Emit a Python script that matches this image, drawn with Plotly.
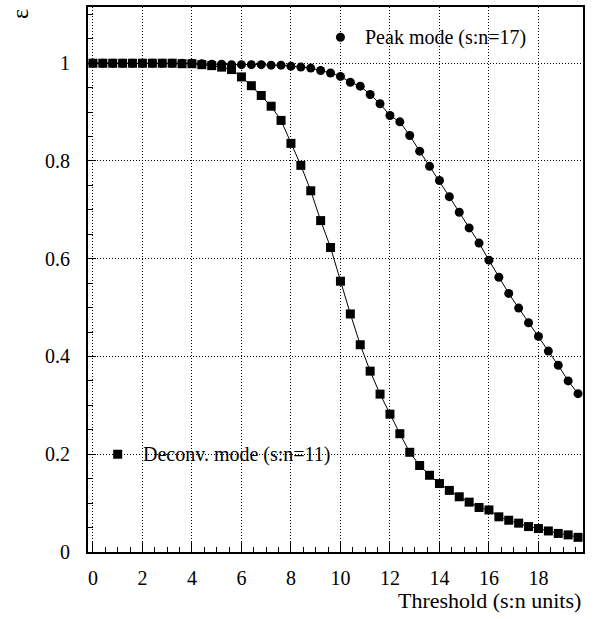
import plotly.graph_objects as go

# Threshold values (s:n units), sampled every 0.4
threshold = [round(0.4 * i, 1) for i in range(50)]

# Efficiency for peak-finding mode (s:n = 17)
eff_peak = [
    1.000, 1.000, 1.000, 1.000, 1.000, 1.000, 1.000, 1.000, 1.000, 1.000,
    1.000, 0.999, 0.998, 0.998, 0.997, 0.997, 0.997, 0.997, 0.996, 0.996,
    0.994, 0.992, 0.990, 0.985, 0.980, 0.973, 0.961, 0.953, 0.936, 0.917,
    0.893, 0.880, 0.852, 0.820, 0.789, 0.760, 0.727, 0.695, 0.663, 0.632,
    0.597, 0.562, 0.529, 0.499, 0.469, 0.441, 0.411, 0.382, 0.350, 0.324,
]

# Efficiency for deconvolution mode (s:n = 11)
eff_deconv = [
    1.000, 1.000, 1.000, 1.000, 1.000, 1.000, 1.000, 1.000, 1.000, 0.999,
    0.999, 0.997, 0.995, 0.992, 0.987, 0.972, 0.954, 0.934, 0.912, 0.883,
    0.836, 0.791, 0.739, 0.678, 0.623, 0.554, 0.487, 0.424, 0.370, 0.323,
    0.282, 0.242, 0.204, 0.177, 0.157, 0.140, 0.126, 0.113, 0.102, 0.091,
    0.086, 0.072, 0.065, 0.059, 0.052, 0.048, 0.043, 0.038, 0.035, 0.030,
]

legend_peak = "Peak mode (s:n=17)"
legend_deconv = "Deconv. mode (s:n=11)"
x_title = "Threshold (s:n units)"
y_title = "ε"

FONT = "Liberation Serif"

fig = go.Figure()

fig.add_trace(go.Scatter(
    x=threshold, y=eff_peak, mode="lines+markers",
    line=dict(color="black", width=1),
    marker=dict(symbol="circle", size=9, color="black"),
    showlegend=False, hoverinfo="skip",
))
fig.add_trace(go.Scatter(
    x=threshold, y=eff_deconv, mode="lines+markers",
    line=dict(color="black", width=1),
    marker=dict(symbol="square", size=9, color="black"),
    showlegend=False, hoverinfo="skip",
))

# Hand-placed legend entries inside the frame
def legend_marker(kind, xc, yc, half=4.5):
    return dict(
        type=kind, xref="x", yref="y",
        xsizemode="pixel", ysizemode="pixel",
        xanchor=xc, yanchor=yc,
        x0=-half, x1=half, y0=-half, y1=half,
        fillcolor="black", line=dict(width=0), layer="above",
    )

fig.add_shape(legend_marker("circle", 10.0, 1.053))
fig.add_shape(legend_marker("rect", 1.0, 0.2))

fig.add_annotation(
    x=10.93, y=1.053, xref="x", yref="y", text=legend_peak,
    showarrow=False, xanchor="left", yanchor="middle",
    font=dict(family=FONT, size=20, color="black"),
)
fig.add_annotation(
    x=1.96, y=0.2, xref="x", yref="y", text=legend_deconv,
    showarrow=False, xanchor="left", yanchor="middle",
    font=dict(family=FONT, size=20, color="black"),
)

# Axis titles
fig.add_annotation(
    x=1, y=0, xref="paper", yref="paper", text=x_title,
    showarrow=False, xanchor="right", yanchor="middle", yshift=-48,
    font=dict(family=FONT, size=22, color="black"),
)
fig.add_annotation(
    x=0, y=1, xref="paper", yref="paper", text=y_title,
    showarrow=False, xanchor="center", yanchor="middle",
    xshift=-68, yshift=-7, textangle=-90,
    font=dict(family=FONT, size=24, color="black"),
)

axis_common = dict(
    ticks="inside", tickcolor="black", tickwidth=1,
    showgrid=True, gridcolor="black", gridwidth=1, griddash="1px,2px",
    showline=True, linecolor="black", linewidth=2, mirror=True,
    zeroline=False, tickfont=dict(family=FONT, size=20, color="black"),
)

fig.update_xaxes(
    range=[-0.2, 19.8], tickmode="linear", tick0=0, dtick=2, ticklen=10,
    ticklabelstandoff=7,
    minor=dict(ticks="inside", ticklen=5, tick0=0, dtick=0.5,
               tickcolor="black", showgrid=False),
    **axis_common,
)
fig.update_yaxes(
    range=[0, 1.115], tickmode="linear", tick0=0, dtick=0.2, ticklen=8,
    ticklabelstandoff=12,
    minor=dict(ticks="inside", ticklen=5, tick0=0, dtick=0.05,
               tickcolor="black", showgrid=False),
    **axis_common,
)

fig.update_layout(
    width=597, height=619,
    margin=dict(l=88, r=14, t=5, b=67),
    paper_bgcolor="white", plot_bgcolor="white",
    font=dict(family=FONT, color="black"),
)

fig.write_html("out.html")
